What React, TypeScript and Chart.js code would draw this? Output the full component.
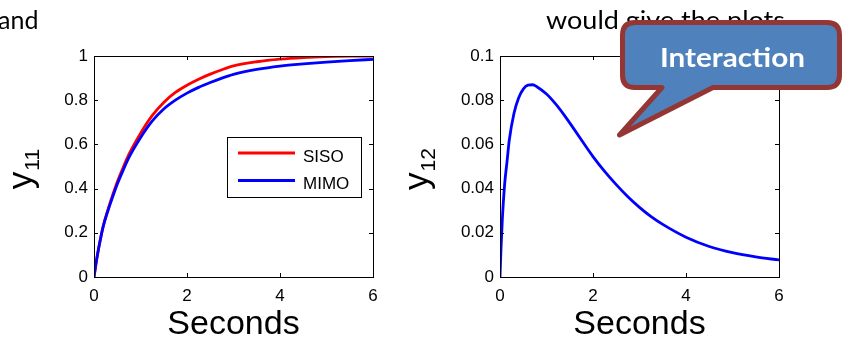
import React, { useEffect, useRef } from 'react';
import { Chart, registerables } from 'chart.js';

Chart.register(...registerables);

// ---------- data ----------
const T11 = [0, 0.05, 0.1, 0.2, 0.3, 0.4, 0.5, 0.6, 0.75, 1, 1.25, 1.5, 1.75, 2, 2.25, 2.5, 2.75, 3, 3.5, 4, 4.5, 5, 5.5, 6];
const SISO = [0, 0.07, 0.13, 0.232, 0.305, 0.37, 0.43, 0.482, 0.555, 0.65, 0.73, 0.79, 0.835, 0.868, 0.895, 0.918, 0.938, 0.955, 0.974, 0.986, 0.993, 0.997, 0.999, 1.0];
const MIMO = [0, 0.07, 0.13, 0.23, 0.3, 0.362, 0.42, 0.47, 0.54, 0.63, 0.705, 0.76, 0.8, 0.832, 0.858, 0.88, 0.9, 0.917, 0.939, 0.954, 0.964, 0.972, 0.979, 0.985];

const T12 = [0, 0.02, 0.05, 0.1, 0.15, 0.2, 0.3, 0.4, 0.5, 0.6, 0.7, 0.8, 1.0, 1.2, 1.4, 1.6, 1.8, 2.0, 2.25, 2.5, 2.75, 3.0, 3.25, 3.5, 4.0, 4.5, 5.0, 5.5, 6.0];
const Y12 = [0, 0.012, 0.026, 0.042, 0.052, 0.062, 0.074, 0.081, 0.085, 0.0868, 0.087, 0.086, 0.0828, 0.0782, 0.0727, 0.0667, 0.0605, 0.0545, 0.0478, 0.0418, 0.0363, 0.0315, 0.0273, 0.0238, 0.018, 0.0138, 0.011, 0.0091, 0.0077];

const X_TICKS = [0, 2, 4, 6];
const X_TICK_LABELS = ['0', '2', '4', '6'];
const Y11_TICKS = [0, 0.2, 0.4, 0.6, 0.8, 1];
const Y11_TICK_LABELS = ['0', '0.2', '0.4', '0.6', '0.8', '1'];
const Y12_TICKS = [0, 0.02, 0.04, 0.06, 0.08, 0.1];
const Y12_TICK_LABELS = ['0', '0.02', '0.04', '0.06', '0.08', '0.1'];
const X_TITLE = 'Seconds';
const LEGEND_LABELS = ['SISO', 'MIMO'];
const TEXT_LEFT = 'and';
const TEXT_RIGHT = 'would give the plots';
const CALLOUT = 'Interaction';

const FONT = "'Liberation Sans', Arial, Helvetica, sans-serif";

// ---------- plugins ----------
const framePlugin = {
  id: 'matlabFrame',
  afterDatasetsDraw(chart: any) {
    const { ctx, chartArea: a, scales } = chart;
    ctx.save();
    ctx.strokeStyle = '#000';
    ctx.lineWidth = 1;
    ctx.strokeRect(a.left + 0.5, a.top + 0.5, a.right - a.left, a.bottom - a.top);
    const L = 4;
    ctx.beginPath();
    scales.x.ticks.forEach((t: any) => {
      const p = Math.round(scales.x.getPixelForValue(t.value)) + 0.5;
      ctx.moveTo(p, a.bottom);
      ctx.lineTo(p, a.bottom - L);
      ctx.moveTo(p, a.top);
      ctx.lineTo(p, a.top + L);
    });
    scales.y.ticks.forEach((t: any) => {
      const p = Math.round(scales.y.getPixelForValue(t.value)) + 0.5;
      ctx.moveTo(a.left, p);
      ctx.lineTo(a.left + L, p);
      ctx.moveTo(a.right, p);
      ctx.lineTo(a.right - L, p);
    });
    ctx.stroke();
    ctx.restore();
  },
};

function makeYLabel(main: string, sub: string, baseX: number, dy: number) {
  return {
    id: 'yLabelSub',
    afterDraw(chart: any) {
      const { ctx, chartArea: a } = chart;
      const cy = (a.top + a.bottom) / 2 + dy;
      ctx.save();
      ctx.fillStyle = '#000';
      ctx.font = `35px ${FONT}`;
      const wm = ctx.measureText(main).width;
      ctx.font = `21px ${FONT}`;
      const ws = ctx.measureText(sub).width;
      const total = wm + ws;
      ctx.translate(baseX, cy);
      ctx.rotate(-Math.PI / 2);
      ctx.textAlign = 'left';
      ctx.textBaseline = 'alphabetic';
      ctx.font = `35px ${FONT}`;
      ctx.fillText(main, -total / 2, 0);
      ctx.font = `21px ${FONT}`;
      ctx.fillText(sub, -total / 2 + wm + 1, 7);
      ctx.restore();
    },
  };
}

function makeBoxLegend(offX: number, offY: number, w: number, h: number) {
  return {
    id: 'boxLegend',
    afterDraw(chart: any) {
      const { ctx, chartArea: a } = chart;
      const x0 = Math.round(a.left + offX);
      const y0 = Math.round(a.top + offY);
      ctx.save();
      ctx.fillStyle = '#fff';
      ctx.fillRect(x0, y0, w, h);
      ctx.strokeStyle = '#000';
      ctx.lineWidth = 1;
      ctx.strokeRect(x0 + 0.5, y0 + 0.5, w, h);
      ctx.font = `17px ${FONT}`;
      ctx.textAlign = 'left';
      ctx.textBaseline = 'alphabetic';
      LEGEND_LABELS.forEach((lab, i) => {
        const ds = chart.data.datasets.find((d: any) => d.label === lab);
        const ly = y0 + 16 + i * 27.5;
        ctx.strokeStyle = ds.borderColor;
        ctx.lineWidth = 2.8;
        ctx.beginPath();
        ctx.moveTo(x0 + 11, ly);
        ctx.lineTo(x0 + 68, ly);
        ctx.stroke();
        ctx.fillStyle = '#000';
        ctx.fillText(lab, x0 + 76, ly + 8.5);
      });
      ctx.restore();
    },
  };
}

function buildOptions(yTicks: number[], yLabels: string[], yMax: number, yAxisWidth: number, padRight: number) {
  return {
    responsive: false,
    animation: false,
    events: [],
    layout: { padding: { left: 0, top: 56, right: padRight, bottom: 0 } },
    plugins: { legend: { display: false }, tooltip: { enabled: false } },
    scales: {
      x: {
        type: 'linear',
        min: 0,
        max: 6,
        afterBuildTicks: (s: any) => {
          s.ticks = X_TICKS.map((v) => ({ value: v }));
        },
        ticks: {
          font: { family: FONT, size: 17 },
          color: '#000',
          padding: 9,
          maxRotation: 0,
          autoSkip: false,
          callback: (_v: any, i: number) => X_TICK_LABELS[i],
        },
        grid: { display: false, drawTicks: false },
        border: { display: false },
        title: {
          display: true,
          text: X_TITLE,
          font: { family: FONT, size: 34 },
          color: '#000',
          padding: { top: 0, bottom: -3 },
        },
        afterFit: (s: any) => {
          s.height = 65;
        },
      },
      y: {
        type: 'linear',
        min: 0,
        max: yMax,
        afterBuildTicks: (s: any) => {
          s.ticks = yTicks.map((v) => ({ value: v }));
        },
        ticks: {
          font: { family: FONT, size: 17 },
          color: '#000',
          padding: 6,
          autoSkip: false,
          callback: (_v: any, i: number) => yLabels[i],
        },
        grid: { display: false, drawTicks: false },
        border: { display: false },
        afterFit: (s: any) => {
          s.width = yAxisWidth;
        },
      },
    },
  };
}

function toPoints(xs: number[], ys: number[]) {
  return xs.map((x, i) => ({ x, y: ys[i] }));
}

function LeftChart() {
  const ref = useRef<HTMLCanvasElement>(null);
  useEffect(() => {
    const chart = new Chart(ref.current as HTMLCanvasElement, {
      type: 'line',
      data: {
        datasets: [
          {
            label: 'SISO',
            data: toPoints(T11, SISO),
            borderColor: '#ff0000',
            borderWidth: 2.8,
            pointRadius: 0,
            cubicInterpolationMode: 'monotone',
            fill: false,
            order: 1,
          },
          {
            label: 'MIMO',
            data: toPoints(T11, MIMO),
            borderColor: '#0000ff',
            borderWidth: 2.8,
            pointRadius: 0,
            cubicInterpolationMode: 'monotone',
            fill: false,
            order: 0,
          },
        ],
      },
      options: buildOptions(Y11_TICKS, Y11_TICK_LABELS, 1, 94, 395 - 373) as any,
      plugins: [framePlugin, makeBoxLegend(133, 81, 134, 60), makeYLabel('y', '11', 32, 3)],
    } as any);
    return () => chart.destroy();
  }, []);
  return <canvas ref={ref} width={395} height={342} style={{ position: 'absolute', left: 0, top: 0, width: 395, height: 342 }} />;
}

function RightChart() {
  const ref = useRef<HTMLCanvasElement>(null);
  useEffect(() => {
    const chart = new Chart(ref.current as HTMLCanvasElement, {
      type: 'line',
      data: {
        datasets: [
          {
            label: 'y12',
            data: toPoints(T12, Y12),
            borderColor: '#0000ff',
            borderWidth: 2.8,
            pointRadius: 0,
            cubicInterpolationMode: 'monotone',
            fill: false,
          },
        ],
      },
      options: buildOptions(Y12_TICKS, Y12_TICK_LABELS, 0.1, 105, 454 - 384) as any,
      plugins: [framePlugin, makeYLabel('y', '12', 33, 3)],
    } as any);
    return () => chart.destroy();
  }, []);
  return <canvas ref={ref} width={454} height={342} style={{ position: 'absolute', left: 395, top: 0, width: 454, height: 342 }} />;
}

export default function App() {
  return (
    <div style={{ position: 'absolute', left: 0, top: 0, width: 849, height: 342, background: '#fff', overflow: 'hidden' }}>
      <LeftChart />
      <RightChart />
      <svg width={849} height={342} style={{ position: 'absolute', left: 0, top: 0, pointerEvents: 'none' }}>
        <text x={38.5} y={29} textAnchor="end" fontFamily="Lato, 'Open Sans', sans-serif" fontSize={25} fill="#000">
          {TEXT_LEFT}
        </text>
        <text x={546} y={29} fontFamily="Lato, 'Open Sans', sans-serif" fontSize={25} fill="#000" textLength={239} lengthAdjust="spacingAndGlyphs">
          {TEXT_RIGHT}
        </text>
        <path
          d="M 635 22.5 H 827 Q 839.5 22.5 839.5 35 V 75 Q 839.5 87.5 827 87.5 H 713 L 619.5 135 L 662 87.5 H 635 Q 622.5 87.5 622.5 75 V 35 Q 622.5 22.5 635 22.5 Z"
          fill="#4F81BD"
          stroke="#943634"
          strokeWidth={5}
          strokeLinejoin="round"
        />
        <text x={732.5} y={67} textAnchor="middle" fontFamily="Lato, 'Open Sans', sans-serif" fontWeight={700} fontSize={26} fill="#fff" textLength={145} lengthAdjust="spacingAndGlyphs">
          {CALLOUT}
        </text>
      </svg>
    </div>
  );
}
